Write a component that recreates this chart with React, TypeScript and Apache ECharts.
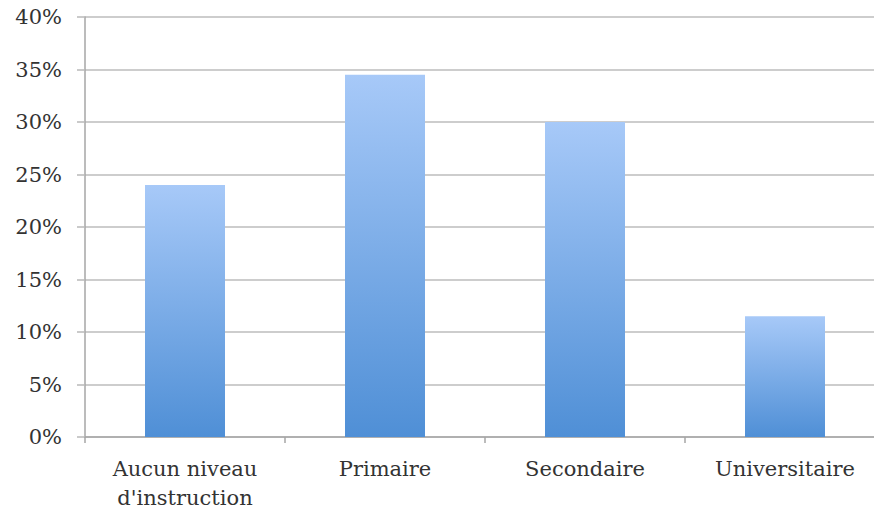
import React, { useEffect, useRef } from "react";
import * as echarts from "echarts";

const categories = ["Aucun niveau\nd'instruction", "Primaire", "Secondaire", "Universitaire"];
const shares = [24, 34.5, 30, 11.5];
const yTicks = [0, 5, 10, 15, 20, 25, 30, 35, 40];

export default function App() {
  const ref = useRef<HTMLDivElement>(null);

  useEffect(() => {
    if (!ref.current) return;
    const chart = echarts.init(ref.current, undefined, { renderer: "svg" });
    const font = "'DejaVu Serif', serif";
    chart.setOption({
      animation: false,
      backgroundColor: "#ffffff",
      grid: {
        left: 85,
        right: 0,
        top: 17,
        bottom: 71,
        containLabel: false,
        outerBoundsMode: "none",
      },
      xAxis: {
        type: "category",
        data: categories,
        axisLine: { show: true, lineStyle: { color: "#a6a6a6", width: 1.5 } },
        axisTick: { show: true, length: 6, lineStyle: { color: "#a6a6a6", width: 1.5 } },
        axisLabel: {
          color: "#333333",
          fontFamily: font,
          fontSize: 21,
          lineHeight: 29,
          margin: 17,
          interval: 0,
        },
      },
      yAxis: {
        type: "value",
        min: yTicks[0],
        max: yTicks[yTicks.length - 1],
        interval: 5,
        axisLine: { show: true, lineStyle: { color: "#a6a6a6", width: 1.5 } },
        axisTick: { show: true, length: 8, lineStyle: { color: "#b8b8b8", width: 1.5 } },
        splitLine: { show: true, lineStyle: { color: "#bdbdbd", width: 1.5 } },
        axisLabel: {
          color: "#333333",
          fontFamily: font,
          fontSize: 21,
          margin: 23,
          formatter: (v: number) => `${v}%`,
        },
      },
      series: [
        {
          type: "bar",
          data: shares,
          barWidth: 80,
          itemStyle: {
            color: new echarts.graphic.LinearGradient(0, 0, 0, 1, [
              { offset: 0, color: "#a7c9f8" },
              { offset: 1, color: "#4f8fd6" },
            ]),
          },
        },
      ],
    });
    return () => chart.dispose();
  }, []);

  // The plot runs slightly past the right edge of the visible frame.
  return (
    <div
      style={{
        position: "fixed",
        left: 0,
        top: 0,
        width: 874,
        height: 508,
        overflow: "hidden",
        background: "#ffffff",
      }}
    >
      <div ref={ref} style={{ width: 885, height: 508 }} />
    </div>
  );
}
